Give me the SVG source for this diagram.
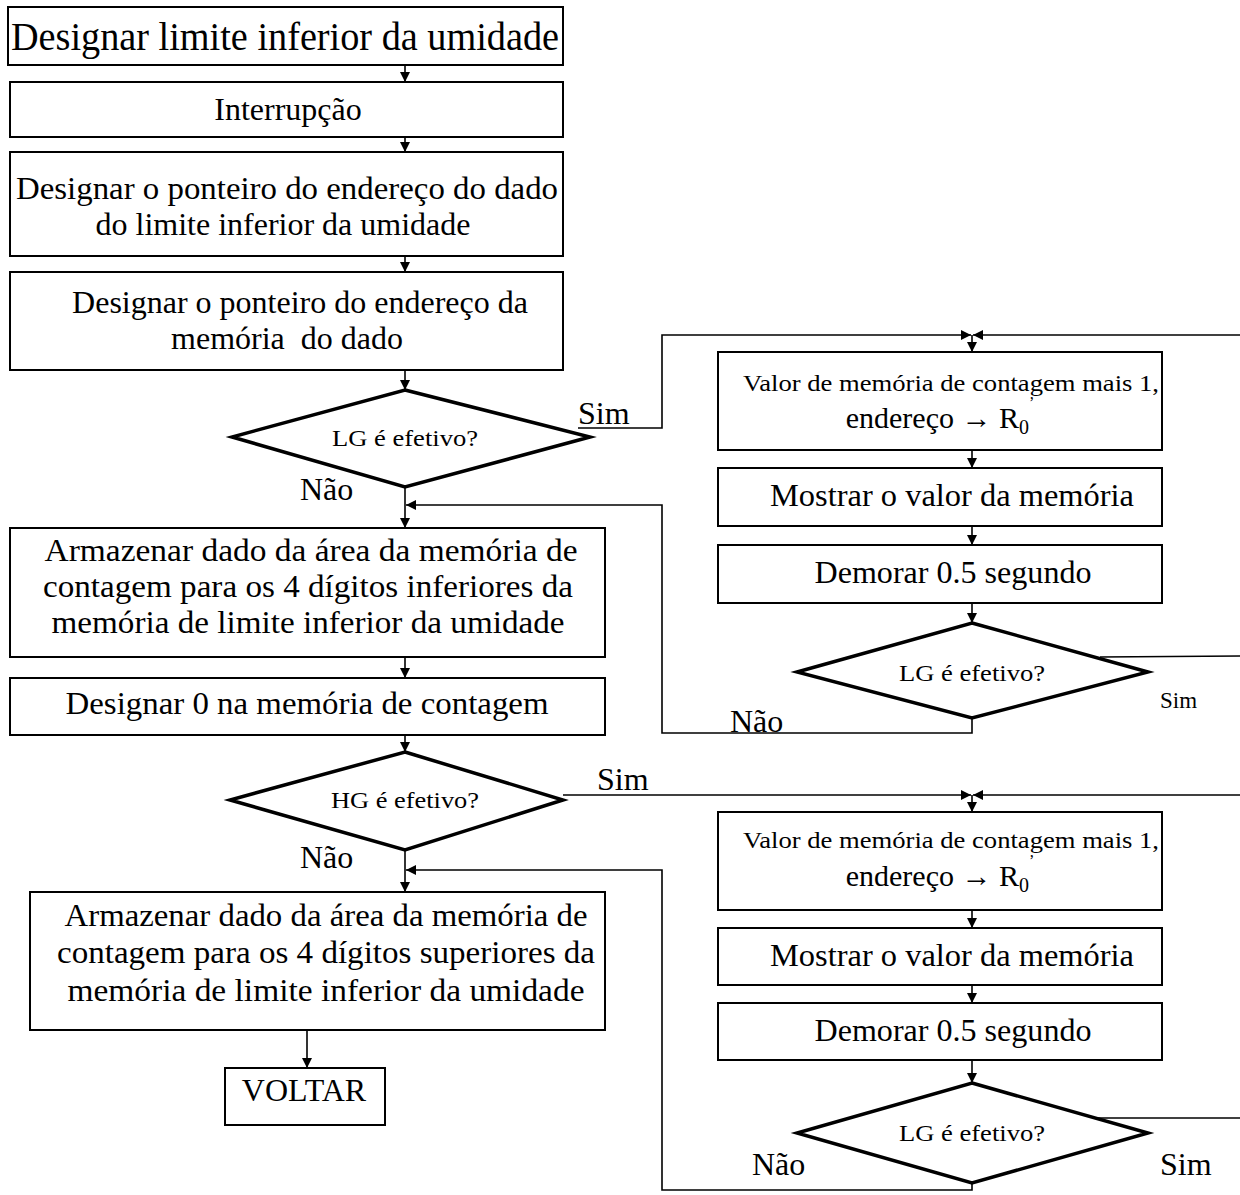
<svg xmlns="http://www.w3.org/2000/svg" width="1240" height="1195" viewBox="0 0 1240 1195">
<defs>
<marker id="ah" viewBox="0 0 10 10" refX="10" refY="5" markerWidth="10" markerHeight="10" markerUnits="userSpaceOnUse" orient="auto">
<path d="M0,0 L10,5 L0,10 z" fill="#000"/>
</marker>
</defs>
<style>
text{font-family:"Liberation Serif","Times New Roman",serif;fill:#000;text-anchor:middle}
.box{fill:#fff;stroke:#000;stroke-width:2}
.dia{fill:#fff;stroke:#000;stroke-width:3.5}
.ln{fill:none;stroke:#000;stroke-width:1.6}
.arr{fill:none;stroke:#000;stroke-width:1.6;marker-end:url(#ah)}
.t40{font-size:40px}
.t32{font-size:32px}
.t30{font-size:30px}
.t24{font-size:24px}
.t23{font-size:23px}
.lbl{text-anchor:start}
</style>
<rect width="1240" height="1195" fill="#fff"/>
<g id="connectors">
<line class="arr" x1="405" y1="65" x2="405" y2="82"/>
<line class="arr" x1="405" y1="137" x2="405" y2="152"/>
<line class="arr" x1="405" y1="256" x2="405" y2="272"/>
<line class="arr" x1="405" y1="370" x2="405" y2="390"/>
<line class="arr" x1="405" y1="487" x2="405" y2="528"/>
<polyline class="arr" points="972,718 972,733 662,733 662,505 406,505"/>
<polyline class="arr" points="578,428 662,428 662,335 971,335"/>
<line class="arr" x1="1240" y1="335" x2="973" y2="335"/>
<line class="arr" x1="972" y1="335" x2="972" y2="352"/>
<line class="arr" x1="972" y1="450" x2="972" y2="468"/>
<line class="arr" x1="972" y1="526" x2="972" y2="545"/>
<line class="arr" x1="972" y1="603" x2="972" y2="623"/>
<line class="ln" x1="1100" y1="657" x2="1240" y2="656"/>
<line class="arr" x1="405" y1="657" x2="405" y2="678"/>
<line class="arr" x1="405" y1="735" x2="405" y2="752"/>
<polyline class="arr" points="563,795 971,795"/>
<line class="arr" x1="1240" y1="795" x2="973" y2="795"/>
<line class="arr" x1="972" y1="795" x2="972" y2="812"/>
<line class="arr" x1="405" y1="850" x2="405" y2="892"/>
<polyline class="arr" points="972,1183 972,1190 662,1190 662,870 406,870"/>
<line class="arr" x1="972" y1="910" x2="972" y2="928"/>
<line class="arr" x1="972" y1="985" x2="972" y2="1003"/>
<line class="arr" x1="972" y1="1060" x2="972" y2="1083"/>
<line class="ln" x1="1095" y1="1118" x2="1240" y2="1118"/>
<line class="arr" x1="307" y1="1030" x2="307" y2="1068"/>
</g>
<g id="n1"><rect class="box" x="8" y="7" width="555" height="58"/><text class="t40" x="285" y="50" textLength="548" lengthAdjust="spacingAndGlyphs">Designar limite inferior da umidade</text></g>
<g id="n2"><rect class="box" x="10" y="82" width="553" height="55"/><text class="t32" x="288" y="120">Interrupção</text></g>
<g id="n3"><rect class="box" x="10" y="152" width="553" height="104"/><text class="t32" x="287" y="199" textLength="542" lengthAdjust="spacingAndGlyphs">Designar o ponteiro do endereço do dado</text><text class="t32" x="283" y="235">do limite inferior da umidade</text></g>
<g id="n4"><rect class="box" x="10" y="272" width="553" height="98"/><text class="t32" x="300" y="313">Designar o ponteiro do endereço da</text><text class="t32" x="287" y="349" xml:space="preserve">memória  do dado</text></g>
<g id="d1"><polygon class="dia" points="405,390 590,437 405,487 232,437"/><text class="t24" x="405" y="446" textLength="146" lengthAdjust="spacingAndGlyphs">LG é efetivo?</text></g>
<g id="n5"><rect class="box" x="10" y="528" width="595" height="129"/><text class="t32" x="311" y="561" textLength="533" lengthAdjust="spacingAndGlyphs">Armazenar dado da área da memória de</text><text class="t32" x="308" y="597" textLength="530" lengthAdjust="spacingAndGlyphs">contagem para os 4 dígitos inferiores da</text><text class="t32" x="308" y="633" textLength="513" lengthAdjust="spacingAndGlyphs">memória de limite inferior da umidade</text></g>
<g id="n6"><rect class="box" x="10" y="678" width="595" height="57"/><text class="t32" x="307" y="714" textLength="483" lengthAdjust="spacingAndGlyphs">Designar 0 na memória de contagem</text></g>
<g id="d2"><polygon class="dia" points="405,752 563,800 405,850 230,800"/><text class="t24" x="405" y="808" textLength="148" lengthAdjust="spacingAndGlyphs">HG é efetivo?</text></g>
<g id="n7"><rect class="box" x="30" y="892" width="575" height="138"/><text class="t32" x="326" y="926" textLength="523" lengthAdjust="spacingAndGlyphs">Armazenar dado da área da memória de</text><text class="t32" x="326" y="963" textLength="538" lengthAdjust="spacingAndGlyphs">contagem para os 4 dígitos superiores da</text><text class="t32" x="326" y="1001" textLength="517" lengthAdjust="spacingAndGlyphs">memória de limite inferior da umidade</text></g>
<g id="n8"><rect class="box" x="225" y="1068" width="160" height="57"/><text class="t32" x="304" y="1101">VOLTAR</text></g>
<g id="r1"><rect class="box" x="718" y="352" width="444" height="98"/><text class="t23" x="951" y="391" textLength="416" lengthAdjust="spacingAndGlyphs">Valor de memória de contagem mais 1,</text><text class="t30" x="940" y="428">endereço → R<tspan font-size="20" dy="6">0</tspan><tspan font-size="16" dy="-26">’</tspan></text></g>
<g id="r2"><rect class="box" x="718" y="468" width="444" height="58"/><text class="t32" x="952" y="506" textLength="364" lengthAdjust="spacingAndGlyphs">Mostrar o valor da memória</text></g>
<g id="r3"><rect class="box" x="718" y="545" width="444" height="58"/><text class="t32" x="953" y="583" textLength="277" lengthAdjust="spacingAndGlyphs">Demorar 0.5 segundo</text></g>
<g id="d3"><polygon class="dia" points="972,623 1148,672 972,718 797,672"/><text class="t24" x="972" y="681" textLength="146" lengthAdjust="spacingAndGlyphs">LG é efetivo?</text></g>
<g id="r4"><rect class="box" x="718" y="812" width="444" height="98"/><text class="t23" x="951" y="848" textLength="416" lengthAdjust="spacingAndGlyphs">Valor de memória de contagem mais 1,</text><text class="t30" x="940" y="886">endereço → R<tspan font-size="20" dy="6">0</tspan><tspan font-size="16" dy="-26">’</tspan></text></g>
<g id="r5"><rect class="box" x="718" y="928" width="444" height="57"/><text class="t32" x="952" y="966" textLength="364" lengthAdjust="spacingAndGlyphs">Mostrar o valor da memória</text></g>
<g id="r6"><rect class="box" x="718" y="1003" width="444" height="57"/><text class="t32" x="953" y="1041" textLength="277" lengthAdjust="spacingAndGlyphs">Demorar 0.5 segundo</text></g>
<g id="d4"><polygon class="dia" points="972,1083 1148,1133 972,1183 797,1133"/><text class="t24" x="972" y="1141" textLength="146" lengthAdjust="spacingAndGlyphs">LG é efetivo?</text></g>
<g id="labels">
<text class="t32 lbl" x="578" y="424">Sim</text>
<text class="t32 lbl" x="300" y="500">Não</text>
<text class="t32 lbl" x="730" y="732">Não</text>
<text class="t23 lbl" x="1160" y="708">Sim</text>
<text class="t32 lbl" x="597" y="790">Sim</text>
<text class="t32 lbl" x="300" y="868">Não</text>
<text class="t32 lbl" x="752" y="1175">Não</text>
<text class="t32 lbl" x="1160" y="1175">Sim</text>
</g>
</svg>
